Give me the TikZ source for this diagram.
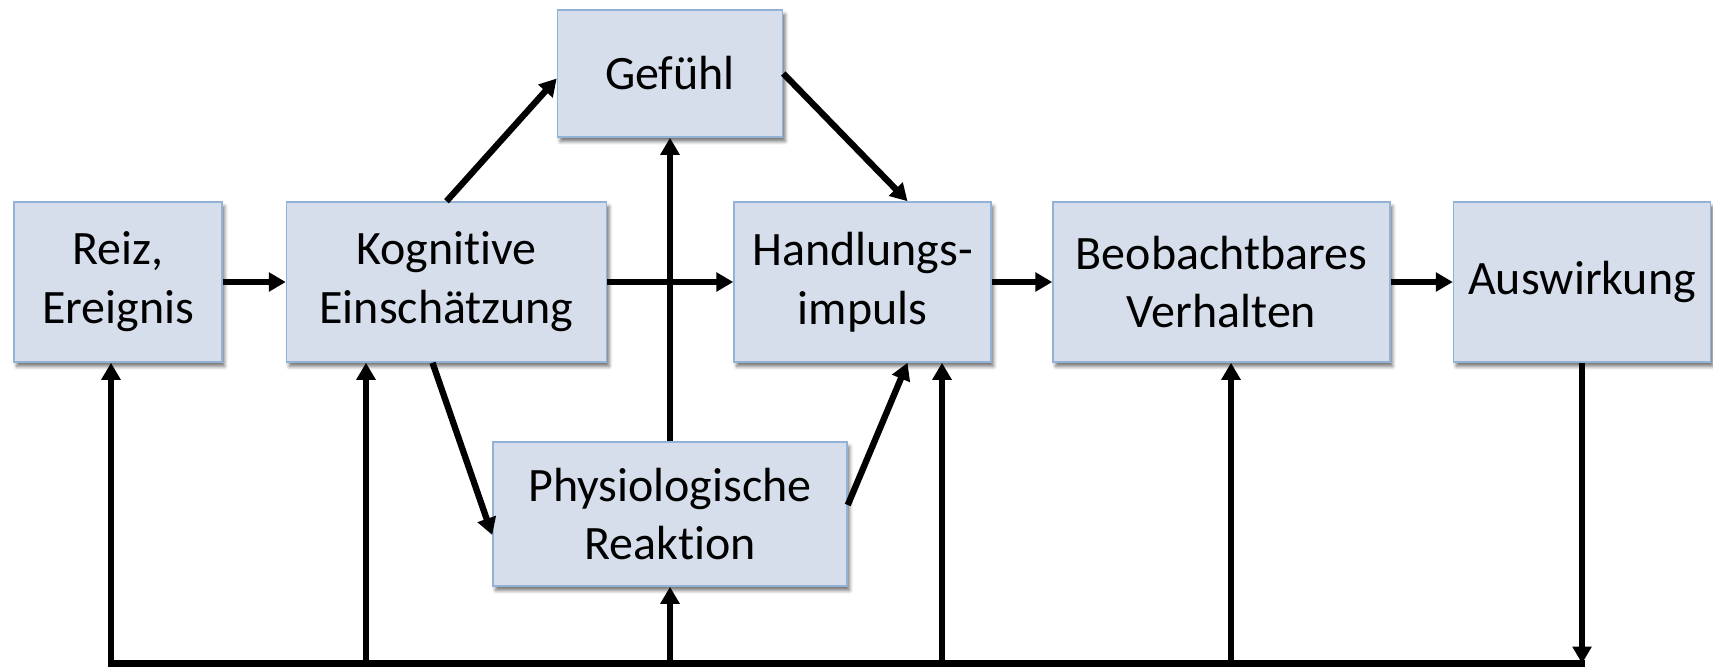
\documentclass[tikz,border=0pt]{standalone}
\usepackage{fontspec}
\setmainfont{Carlito}[Ligatures=NoCommon]
\usepackage{tikz}
\usetikzlibrary{positioning,calc,arrows.meta,shadows.blur}
\definecolor{boxfill}{HTML}{D5DEEA}
\definecolor{boxline}{HTML}{93B3D6}

\tikzset{
  box/.style={draw=boxline, fill=boxfill, line width=0.9pt, minimum height=3.2cm,
    align=center, inner sep=0pt, font=\fontsize{27.3}{33.5}\selectfont,
    blur shadow={shadow xshift=1.5pt, shadow yshift=-2.5pt, shadow blur radius=2pt, shadow opacity=55}},
  arr/.style={line width=3.6pt, -{Triangle[length=0.34cm,width=0.37cm]}},
  ln/.style={line width=3.6pt, line cap=rect}
}

\begin{document}
\begin{tikzpicture}[x=0.02cm, y=-0.02cm, node distance=1.21cm]
    \useasboundingbox (0,0) rectangle (1713,666);

    % main row
    \node [box, minimum width=4.16cm] (reiz) at (118,282) {Reiz,\\Ereignis};
    \node [box, minimum width=6.4cm, right=1.26cm of reiz] (kog) {Kognitive\\Einschätzung};
    \node [box, minimum width=5.14cm, right=2.52cm of kog] (hand) {Handlungs-\\impuls};
    \node [box, minimum width=6.74cm, right=of hand] (beob) {Beobachtbares\\Verhalten};
    \node [box, minimum width=5.14cm, right=1.24cm of beob] (ausw) {Auswirkung};

    % above and below
    \node [box, minimum width=4.5cm, minimum height=2.54cm] (gef) at (670,73.5) {Gefühl};
    \node [box, minimum width=7.08cm, minimum height=2.88cm] (phys) at (670,514) {Physiologische\\Reaktion};

    % feedback line
    \coordinate (b1) at (111,663.5);
    \coordinate (b2) at (366,663.5);
    \coordinate (b3) at (670,663.5);
    \coordinate (b4) at (942,663.5);
    \coordinate (b5) at (1231,663.5);
    \coordinate (b6) at (ausw.south |- b1);

    \draw [ln] (b1) -- (b6);
    \draw [arr] (ausw.south) -- (b6);
    \draw [arr] (b1) -- (b1 |- reiz.south);
    \draw [arr] (b2) -- (b2 |- kog.south);
    \draw [arr] (b3) -- (phys.south);
    \draw [arr] (b4) -- (b4 |- hand.south);
    \draw [arr] (b5) -- (b5 |- beob.south);

    % row arrows
    \draw [arr] (reiz.east) -- (kog.west);
    \draw [arr] (kog.east) -- (hand.west);
    \draw [arr] (hand.east) -- (beob.west);
    \draw [arr] (beob.east) -- (ausw.west);

    % inner arrows
    \draw [arr] (phys.north) -- (gef.south);
    \draw [arr] (kog.north) -- ($(gef.west)+(0,5)$);
    \draw [arr] (gef.east) -- ($(hand.north)+(45,0)$);
    \draw [arr] ($(kog.south)+(-14,0)$) -- ($(phys.west)+(0,21)$);
    \draw [arr] ($(phys.east)+(0,-9)$) -- ($(hand.south)+(45,0)$);
\end{tikzpicture}
\end{document}
